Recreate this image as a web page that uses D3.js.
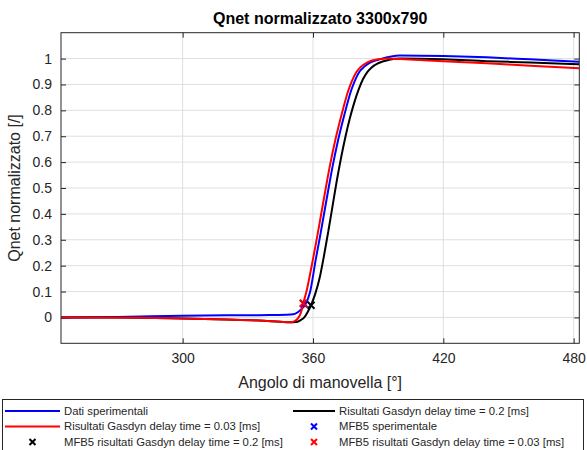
<!DOCTYPE html>
<html><head><meta charset="utf-8">
<script src="https://cdn.jsdelivr.net/npm/d3@7"></script>
<style>body{margin:0;background:#fff}svg{display:block}text{font-family:"Liberation Sans",Arial,sans-serif}</style>
</head><body><svg id="c" width="587" height="450"></svg>
<script>
// ---- data ----
const xTicks = [300, 360, 420, 480];
const yTicks = [0, 0.1, 0.2, 0.3, 0.4, 0.5, 0.6, 0.7, 0.8, 0.9, 1];
const yTickLabels = ["0","0.1","0.2","0.3","0.4","0.5","0.6","0.7","0.8","0.9","1"];

const expAngle = [244,270,300,320,340,348,351,353,355,356.5,358.6,361.3,363.3,365.3,367.3,369.3,371.3,373.3,375.3,377.3,379.3,381.3,383.5,386.5,391,400,420,440,460,482.6];
const expQ     = [0,0.002,0.006,0.008,0.009,0.01,0.012,0.02,0.035,0.05,0.096,0.225,0.315,0.41,0.505,0.595,0.675,0.745,0.81,0.87,0.915,0.948,0.968,0.985,0.998,1.012,1.01,1.005,0.997,0.988];

const g03Angle = [244,260,280,300,320,335,345,349.4,351,353,354.5,355.5,357,358.5,360,362,364,366,368,370,372,374,376,378,380,382,385,390,395,400,420,440,460,482.6];
const g03Q     = [0,0,-0.001,-0.004,-0.008,-0.012,-0.017,-0.019,-0.016,-0.005,0.02,0.055,0.10,0.16,0.225,0.315,0.41,0.505,0.595,0.675,0.745,0.81,0.87,0.915,0.948,0.968,0.985,0.997,1.0,0.998,0.99,0.982,0.972,0.963];

const g02Angle = [244,260,280,300,320,335,345,349.4,352,354,356,357.5,359.1,361,363,365,367,369,371,373,375,377,379,381,383,385,387,390,395,400,420,440,460,482.6];
const g02Q     = [0,0,-0.001,-0.004,-0.008,-0.012,-0.017,-0.019,-0.018,-0.012,0.0,0.02,0.047,0.09,0.15,0.235,0.33,0.43,0.53,0.62,0.70,0.77,0.83,0.88,0.92,0.948,0.966,0.982,0.995,1.0,0.997,0.99,0.985,0.978];

// MFB5 markers [angle, value]
const mfbExp = [355.8, 0.053];
const mfbG02 = [359.1, 0.047];
const mfbG03 = [355.5, 0.055];

const legendItems = [
  {label:"Dati sperimentali", type:"line", color:"#0000ff"},
  {label:"Risultati Gasdyn delay time = 0.2 [ms]", type:"line", color:"#000000"},
  {label:"Risultati Gasdyn delay time = 0.03 [ms]", type:"line", color:"#ff0000"},
  {label:"MFB5 sperimentale", type:"x", color:"#0000ff"},
  {label:"MFB5 risultati Gasdyn delay time = 0.2 [ms]", type:"x", color:"#000000"},
  {label:"MFB5 risultati Gasdyn delay time = 0.03 [ms]", type:"x", color:"#ff0000"}
];

// ---- drawing ----
const svg = d3.select("#c");
const L = 61, R = 579.3, T = 32.7, B = 343.3;
const x = d3.scaleLinear().domain([244, 482.6]).range([L, R]);
const y = d3.scaleLinear().domain([-0.1, 1.1]).range([B, T]);
const axisCol = "#262626", gridCol = "#dfdfdf";

// grid
svg.append("g").selectAll("line").data(xTicks).join("line")
  .attr("x1", d=>x(d)).attr("x2", d=>x(d)).attr("y1", T).attr("y2", B)
  .attr("stroke", gridCol).attr("stroke-width", 1);
svg.append("g").selectAll("line").data(yTicks).join("line")
  .attr("x1", L).attr("x2", R).attr("y1", d=>y(d)).attr("y2", d=>y(d))
  .attr("stroke", gridCol).attr("stroke-width", 1);

// axes
const tickLen = 5;
const xAxisB = d3.axisBottom(x).tickValues(xTicks).tickSize(-tickLen).tickPadding(10).tickFormat(d3.format("d"));
const xAxisT = d3.axisTop(x).tickValues(xTicks).tickSize(-tickLen).tickFormat("");
const yAxisL = d3.axisLeft(y).tickValues(yTicks).tickSize(-tickLen).tickPadding(9).tickFormat((d,i)=>yTickLabels[i]);
const yAxisR = d3.axisRight(y).tickValues(yTicks).tickSize(-tickLen).tickFormat("");

function style(g){
  g.select(".domain").remove();
  g.selectAll(".tick line").attr("stroke", axisCol).attr("stroke-width", 1);
  g.selectAll(".tick text").attr("fill", axisCol).style("font-size","14px").style("font-family",'"Liberation Sans",Arial,sans-serif');
}
svg.append("g").attr("transform",`translate(0,${B})`).call(xAxisB).call(style);
svg.append("g").attr("transform",`translate(0,${T})`).call(xAxisT).call(style);
svg.append("g").attr("transform",`translate(${L},0)`).call(yAxisL).call(style);
svg.append("g").attr("transform",`translate(${R},0)`).call(yAxisR).call(style);

// clip
svg.append("clipPath").attr("id","clip").append("rect").attr("x",L).attr("y",T).attr("width",R-L).attr("height",B-T);

const line = d3.line().x(d=>x(d[0])).y(d=>y(d[1])).curve(d3.curveMonotoneX);
const series = [
  {a:expAngle, q:expQ, c:"#0000ff"},
  {a:g02Angle, q:g02Q, c:"#000000"},
  {a:g03Angle, q:g03Q, c:"#ff0000"}
];
const pg = svg.append("g").attr("clip-path","url(#clip)");
series.forEach(s=>{
  pg.append("path").datum(d3.zip(s.a, s.q)).attr("d", line)
    .attr("fill","none").attr("stroke", s.c).attr("stroke-width", 2);
});

function xMark(g, cx, cy, col, s){
  g.append("path").attr("d",`M${cx-s},${cy-s}L${cx+s},${cy+s}M${cx-s},${cy+s}L${cx+s},${cy-s}`)
    .attr("stroke", col).attr("stroke-width", 2).attr("fill","none");
}
[[mfbExp,"#0000ff"],[mfbG02,"#000000"],[mfbG03,"#ff0000"]].forEach(([p,c])=>xMark(pg, x(p[0]), y(p[1]), c, 3.5));

// box
svg.append("rect").attr("x",L).attr("y",T).attr("width",R-L).attr("height",B-T)
  .attr("fill","none").attr("stroke",axisCol).attr("stroke-width",1);

// title & labels
svg.append("text").attr("x",(L+R)/2).attr("y",24).attr("text-anchor","middle")
  .style("font-size","16px").style("font-weight","bold").attr("fill","#000").text("Qnet normalizzato 3300x790");
svg.append("text").attr("x",(L+R)/2).attr("y",388).attr("text-anchor","middle")
  .style("font-size","16px").attr("fill",axisCol).text("Angolo di manovella [°]");
svg.append("text").attr("transform",`translate(20,${(T+B)/2}) rotate(-90)`).attr("text-anchor","middle")
  .style("font-size","16px").attr("fill",axisCol).text("Qnet normalizzato [/]");

// legend
const lg = svg.append("g");
lg.append("rect").attr("x",2.5).attr("y",399.5).attr("width",581).attr("height",60)
  .attr("fill","#fff").attr("stroke",axisCol).attr("stroke-width",1);
const colX = [5, 293], textX = [64, 339], rowY = [411, 426.5, 442];
legendItems.forEach((it,i)=>{
  const col = i%2, row = Math.floor(i/2);
  const yy = rowY[row];
  if(it.type==="line"){
    lg.append("line").attr("x1",colX[col]).attr("x2",textX[col]-4).attr("y1",yy).attr("y2",yy)
      .attr("stroke",it.color).attr("stroke-width",2);
  } else {
    xMark(lg, (colX[col]+textX[col]-4)/2, yy, it.color, 3);
  }
  lg.append("text").attr("x",textX[col]).attr("y",yy).attr("dy","0.35em")
    .style("font-size","11.3px").attr("fill",axisCol).text(it.label);
});
</script></body></html>
